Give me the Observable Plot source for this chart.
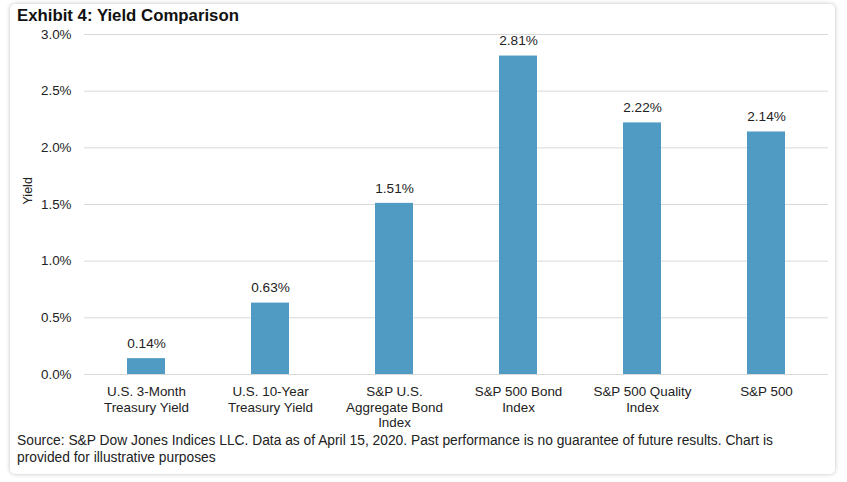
<!DOCTYPE html>
<html><head><meta charset="utf-8">
<script src="https://cdn.jsdelivr.net/npm/d3@7"></script>
<script src="https://cdn.jsdelivr.net/npm/@observablehq/plot@0.6"></script>
<style>
html,body{margin:0;padding:0;background:#fff;}
body{width:847px;height:482px;position:relative;overflow:hidden;font-family:"Liberation Sans",Arial,sans-serif;color:#1a1a1a;}
#card{position:absolute;left:10px;top:4px;width:825px;height:470px;background:#fff;border-radius:5px;box-shadow:0 0 4px rgba(0,0,0,0.25);z-index:0;}
#title{position:absolute;left:17px;top:6px;font-weight:bold;font-size:16.8px;color:#111;z-index:1;}
#chart{position:absolute;left:0;top:0;z-index:2;}
#chart svg{overflow:visible;}
#caption{position:absolute;left:17px;top:432px;width:775px;font-size:13.8px;line-height:17px;color:#222;z-index:1;}
</style></head>
<body>
<div id="card"></div>
<div id="chart"></div>
<div id="title">Exhibit 4: Yield Comparison</div>
<div id="caption">Source: S&amp;P Dow Jones Indices LLC. Data as of April 15, 2020. Past performance is no guarantee of future results. Chart is provided for illustrative purposes</div>
<script>
const categories = ["U.S. 3-Month Treasury Yield","U.S. 10-Year Treasury Yield","S&P U.S. Aggregate Bond Index","S&P 500 Bond Index","S&P 500 Quality Index","S&P 500"];
const tickLines1 = ["U.S. 3-Month","U.S. 10-Year","S&P U.S.","S&P 500 Bond","S&P 500 Quality","S&P 500"];
const tickLines2 = ["Treasury Yield","Treasury Yield","Aggregate Bond","Index","Index",""];
const tickLines3 = ["","","Index","","",""];
const yields = [0.14, 0.63, 1.51, 2.81, 2.22, 2.14];
const yTicks = [0, 0.5, 1.0, 1.5, 2.0, 2.5, 3.0];

const data = categories.map((c, i) => ({category: c, value: yields[i]}));
const lineSets = [tickLines1, tickLines2, tickLines3];

const chart = Plot.plot({
  width: 847,
  height: 440,
  marginLeft: 84,
  marginRight: 19,
  marginTop: 34,
  marginBottom: 66,
  style: {fontFamily: "'Liberation Sans', Arial, sans-serif", fontSize: "13.4px", color: "#222", background: "transparent", overflow: "visible"},
  x: {domain: categories, paddingInner: 0.69, paddingOuter: 0.345, align: 0.5, label: null, axis: null},
  y: {domain: [0, 3], label: null},
  marks: [
    Plot.gridY(yTicks, {stroke: "#d9d9d9", strokeOpacity: 1}),
    Plot.barY(data, {x: "category", y: "value", fill: "#4f9bc4"}),
    Plot.text(data, {x: "category", y: "value", text: d => d.value.toFixed(2) + "%", dy: -15, fill: "#222", fontSize: 13.6}),
    Plot.axisY(yTicks, {tickSize: 0, tickPadding: 13, tickFormat: d => d.toFixed(1) + "%", label: null}),
    ...lineSets.map((lines, li) => Plot.text(categories, {
      x: d => d, text: (d, i) => lines[i], frameAnchor: "bottom", lineAnchor: "middle",
      dy: 17.5 + 15.6 * li, fill: "#222"
    })),
    Plot.text(["Yield"], {frameAnchor: "left", dx: -57, rotate: -90, fill: "#222", fontSize: 12.5})
  ]
});
document.getElementById("chart").appendChild(chart);
</script>
</body></html>
